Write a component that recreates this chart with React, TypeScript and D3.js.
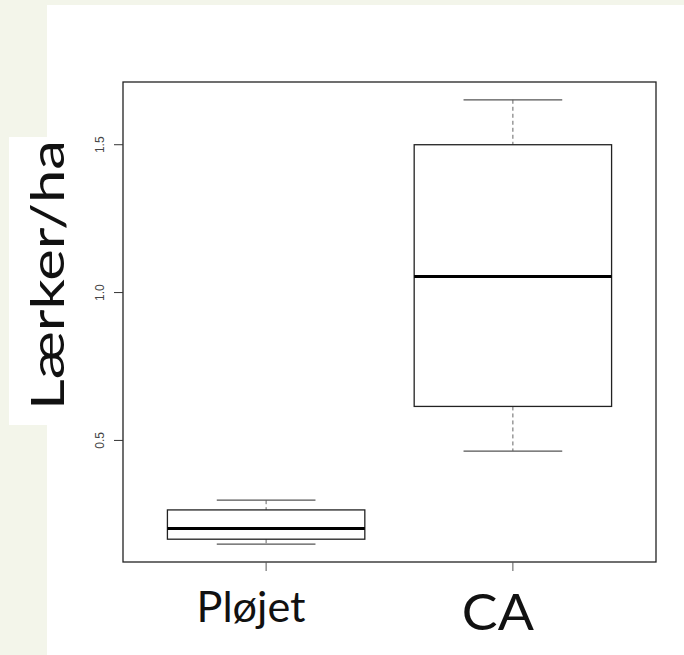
import { useEffect } from "react";
import * as d3 from "d3";

const categories = ["Pløjet", "CA"];
const lowerWhisker = [0.149, 0.464];
const q1 = [0.166, 0.615];
const median = [0.202, 1.054];
const q3 = [0.265, 1.5];
const upperWhisker = [0.298, 1.652];
const yTicks = [0.5, 1.0, 1.5];

const W = 684;
const H = 655;
const plot = { left: 123, right: 656, top: 82, bottom: 562 };
// slide text boxes: sizes and widths as on the slide
const catFont = [42, 50];
const catWidth = [109, 72];
const catBase = [622, 630];

export default function App() {
  useEffect(() => {
    document.body.style.margin = "0";
  }, []);

  // R-style 4% padding on both axes
  const lo = d3.min(lowerWhisker)!;
  const hi = d3.max(upperWhisker)!;
  const pad = (hi - lo) * 0.04;
  const y = d3.scaleLinear().domain([lo - pad, hi + pad]).range([plot.bottom, plot.top]);
  const x = d3.scaleLinear().domain([0.42, categories.length + 0.58]).range([plot.left, plot.right]);
  const boxHalf = x(1.4) - x(1);
  const capHalf = x(1.2) - x(1);

  return (
    <svg width={W} height={H} style={{ position: "absolute", left: 0, top: 0, display: "block" }}>
      <rect x={0} y={0} width={W} height={H} fill="#f3f5ea" />
      <rect x={47} y={5} width={W - 47} height={H - 5} fill="white" />
      <rect x={9} y={137} width={60} height={288} fill="white" />

      {/* y-axis title */}
      <text
        transform={`translate(64,${275}) rotate(-90)`}
        textAnchor="middle"
        fontFamily="Lato, 'DejaVu Sans', sans-serif"
        fontSize={46}
        textLength={270}
        lengthAdjust="spacingAndGlyphs"
        fill="#111"
      >
        Lærker/ha
      </text>

      {/* frame */}
      <rect
        x={plot.left}
        y={plot.top}
        width={plot.right - plot.left}
        height={plot.bottom - plot.top}
        fill="none"
        stroke="#222"
        strokeWidth={1.3}
      />

      {/* y ticks */}
      {yTicks.map((t) => (
        <g key={t}>
          <line x1={plot.left - 9} x2={plot.left} y1={y(t)} y2={y(t)} stroke="#333" strokeWidth={1} />
          <text
            transform={`translate(${104},${y(t)}) rotate(-90)`}
            textAnchor="middle"
            fontFamily="Arial, 'Liberation Sans', sans-serif"
            fontSize={12}
            fill="#444"
          >
            {d3.format(".1f")(t)}
          </text>
        </g>
      ))}

      {/* x ticks + labels */}
      {categories.map((c, i) => (
        <g key={c}>
          <line x1={x(i + 1)} x2={x(i + 1)} y1={plot.bottom} y2={plot.bottom + 9} stroke="#555" strokeWidth={1} />
          <text
            x={x(i + 1) - 15}
            y={catBase[i]}
            textAnchor="middle"
            fontFamily="Lato, 'DejaVu Sans', sans-serif"
            fontSize={catFont[i]}
            textLength={catWidth[i]}
            lengthAdjust="spacingAndGlyphs"
            fill="#111"
          >
            {c}
          </text>
        </g>
      ))}

      {/* boxes */}
      {categories.map((c, i) => {
        const cx = x(i + 1);
        return (
          <g key={c + "-box"}>
            <line x1={cx} x2={cx} y1={y(upperWhisker[i])} y2={y(q3[i])} stroke="#666" strokeWidth={1} strokeDasharray="4,3" />
            <line x1={cx} x2={cx} y1={y(q1[i])} y2={y(lowerWhisker[i])} stroke="#666" strokeWidth={1} strokeDasharray="4,3" />
            <line x1={cx - capHalf} x2={cx + capHalf} y1={y(upperWhisker[i])} y2={y(upperWhisker[i])} stroke="#555" strokeWidth={1.3} />
            <line x1={cx - capHalf} x2={cx + capHalf} y1={y(lowerWhisker[i])} y2={y(lowerWhisker[i])} stroke="#555" strokeWidth={1.3} />
            <rect
              x={cx - boxHalf}
              y={y(q3[i])}
              width={boxHalf * 2}
              height={y(q1[i]) - y(q3[i])}
              fill="white"
              stroke="#222"
              strokeWidth={1.3}
            />
            <line x1={cx - boxHalf} x2={cx + boxHalf} y1={y(median[i])} y2={y(median[i])} stroke="#000" strokeWidth={3} />
          </g>
        );
      })}
    </svg>
  );
}
